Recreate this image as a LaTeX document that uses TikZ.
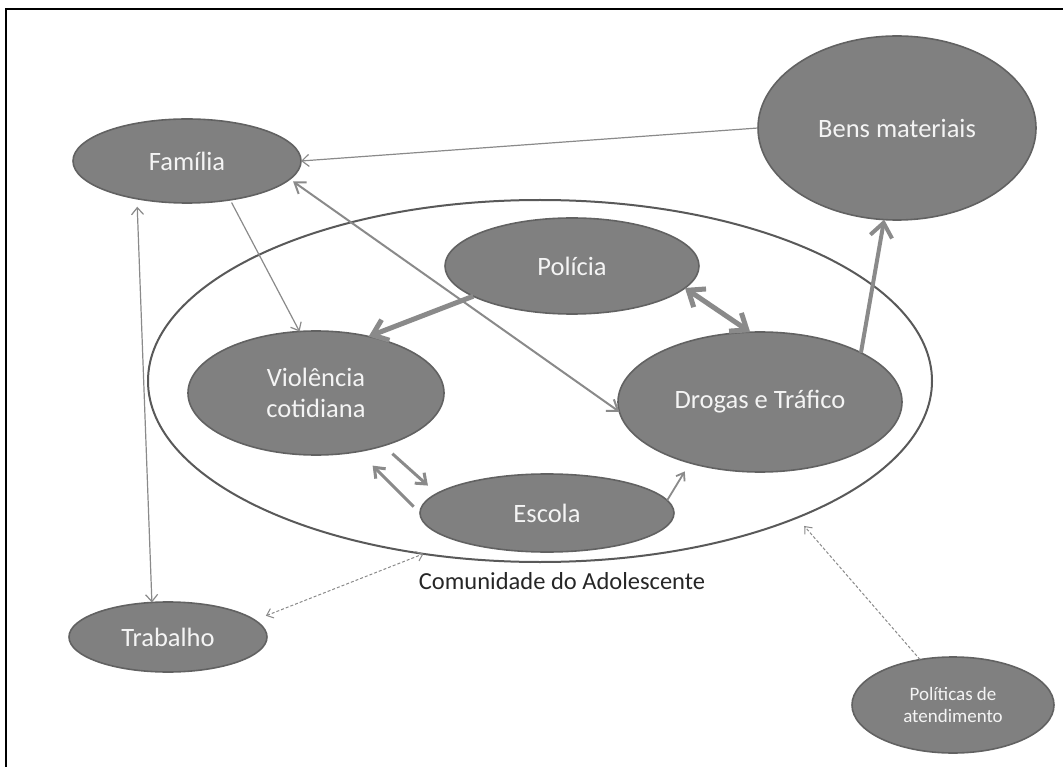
\documentclass[tikz,border=0pt]{standalone}
\usepackage{fontspec}
\setmainfont{Carlito}
\usepackage{tikz}
\usetikzlibrary{positioning, arrows.meta, calc, shapes.geometric}
\definecolor{bubblefill}{RGB}{128,128,128}
\definecolor{bubbleedge}{RGB}{98,98,98}
\definecolor{linkgray}{RGB}{138,138,138}
\definecolor{ringgray}{RGB}{89,89,89}
\definecolor{textlight}{RGB}{244,244,244}

\tikzset{
  bubble/.style={ellipse, fill=bubblefill, draw=bubbleedge, line width=1.6pt, inner sep=0pt, outer sep=0pt, text=textlight, align=center, font=\fontsize{26.5}{31}\selectfont},
  thinlink/.style={linkgray, line width=1.2pt, -{Straight Barb[length=7pt, width=12pt]}},
  midlink/.style={linkgray, line width=2pt, {Straight Barb[length=10pt, width=14pt]}-{Straight Barb[length=10pt, width=14pt]}},
  thicklink/.style={linkgray, line width=5pt, -{Straight Barb[length=14pt, width=22pt]}},
  dashlink/.style={linkgray, line width=1pt, dash pattern=on 3pt off 2pt, -{Straight Barb[length=6pt, width=10pt]}}
}

\begin{document}
\begin{tikzpicture}[x=1pt, y=-1pt]
    \useasboundingbox (0,0) rectangle (1063,767);
    \draw[black, line width=2pt] (6,767) -- (6,9) -- (1063,9);

    \node[ellipse, draw=ringgray, line width=2pt, fill=white, minimum width=784pt, minimum height=362pt, inner sep=0pt, outer sep=0pt] (com) at (540,381) {};
    \node[font=\fontsize{24.5}{29}\selectfont, text=black!85] (comlabel) at (562,581) {Comunidade do Adolescente};

    \node[bubble, minimum width=228pt, minimum height=84pt] (fam) at (187,161) {Família};
    \node[bubble, minimum width=278pt, minimum height=184pt] (bens) at (897,128) {Bens materiais};
    \node[bubble, minimum width=254pt, minimum height=96pt] (pol) at (572,266) {Polícia};
    \node[bubble, minimum width=256pt, minimum height=124pt] (vio) at (316,393) {Violência\\cotidiana};
    \node[bubble, minimum width=284pt, minimum height=140pt] (dro) at (760,402) {Drogas e Tráfico};
    \node[bubble, minimum width=254pt, minimum height=78pt] (esc) at (547,513) {Escola};
    \node[bubble, minimum width=198pt, minimum height=70pt] (tra) at (168,637) {Trabalho};
    \node[bubble, minimum width=202pt, minimum height=96pt, font=\fontsize{19}{22}\selectfont] (pat) at (953,705) {Políticas de\\atendimento};

    \draw[thinlink] (bens.180) -- (fam.0);
    \draw[thinlink, shorten <=3pt] (fam.-42) -- (vio.105);
    \draw[thinlink, {Straight Barb[length=7pt, width=12pt]}-{Straight Barb[length=7pt, width=12pt]}, shorten <=8pt] (fam.-143) -- (tra.115);
    \draw[midlink, shorten >=4pt] (dro.184) -- (fam.-10);

    \draw[thicklink] (pol.197) -- (vio.47);
    \draw[thicklink, {Straight Barb[length=14pt, width=22pt]}-{Straight Barb[length=14pt, width=22pt]}] (pol.-11) -- (dro.98);
    \draw[thicklink, line width=4pt] (dro.26) -- (bens.-98);

    \draw[linkgray, line width=3pt, -{Straight Barb[length=9pt, width=14pt]}, shorten <=12pt, shorten >=12pt] (vio.-38) -- (esc.170);
    \draw[linkgray, line width=3pt, -{Straight Barb[length=9pt, width=14pt]}, shorten <=9pt, shorten >=20pt] (esc.180) -- (vio.-54);
    \draw[linkgray, line width=1.8pt, -{Straight Barb[length=7pt, width=10pt]}, shorten >=10pt] (esc.6) -- (dro.-139);

    \draw[dashlink, {Straight Barb[length=6pt, width=10pt]}-{Straight Barb[length=6pt, width=10pt]}, shorten <=12pt] (tra.11) -- (com.-124);
    \draw[dashlink, shorten >=11pt] (pat.126) -- (com.-28);
\end{tikzpicture}
\end{document}
